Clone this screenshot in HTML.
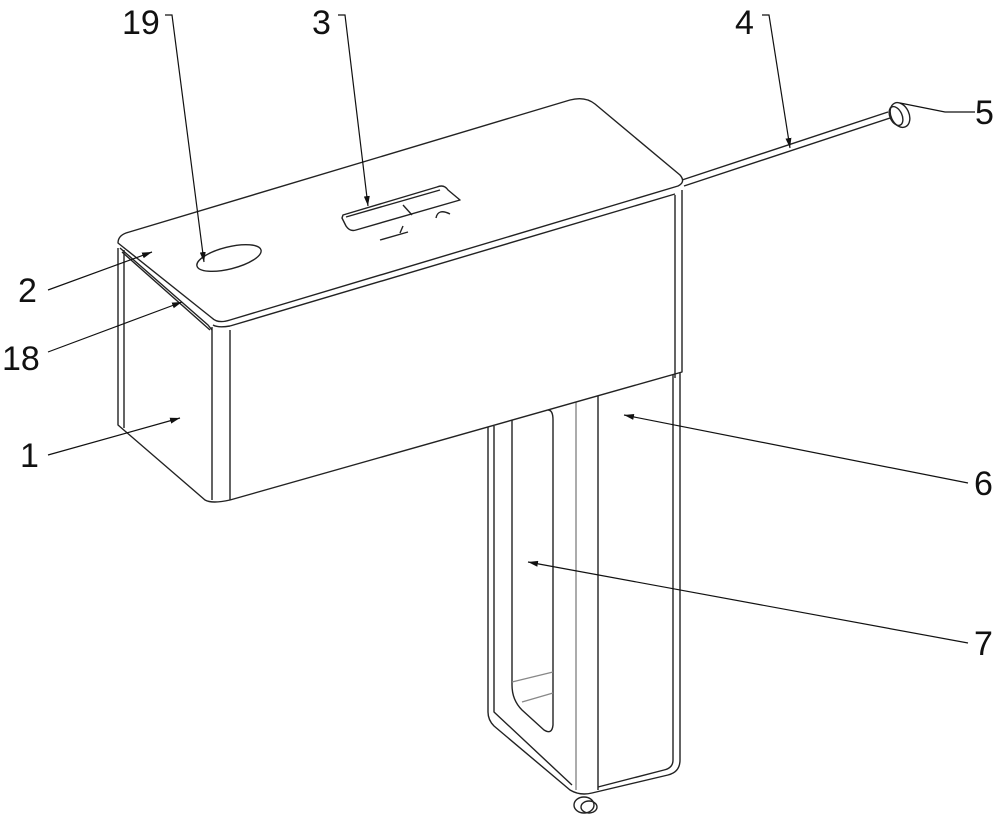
<!DOCTYPE html>
<html><head><meta charset="utf-8"><style>
html,body{margin:0;padding:0;background:#fff;}
svg{display:block}
text{font-family:"Liberation Sans",sans-serif;font-size:34px;fill:#111}
</style></head><body>
<svg width="1000" height="820" viewBox="0 0 1000 820" xmlns="http://www.w3.org/2000/svg">
<defs><marker id="a" viewBox="0 0 10 6" refX="10" refY="3" markerWidth="10" markerHeight="6" orient="auto" markerUnits="userSpaceOnUse"><path d="M0,0L10,3L0,6z" fill="#111"/></marker></defs>
<g fill="none" stroke="#222" stroke-width="1.4" stroke-linejoin="round">
<!-- handle -->
<path d="M488,427 L488,712 Q488,720 494,726 L570,790 Q580,796 592,793 L668,775 Q680,772 680,760 L680,372"/>
<path d="M494,426 L494,712 L572,785"/>
<path d="M673,373 L673,760 Q673,768 664,770 L598,787"/>
<line x1="598" y1="395" x2="598" y2="790"/>
<line x1="576" y1="400" x2="576" y2="790" stroke="#888"/>
<path d="M512,418 L512,685 Q512,700 522,710 L544,730 Q552,735 553,725 L553,420 Q553,410 548,410"/>
<line x1="512" y1="682" x2="553" y2="672" stroke="#888"/>
<line x1="522" y1="702" x2="553" y2="693" stroke="#888"/>
<ellipse cx="584" cy="805" rx="10" ry="8"/>
<ellipse cx="589" cy="807" rx="8" ry="6"/>
<!-- body -->
<path d="M118,248 L118,425 L205,500 Q212,504 230,500 L682,372 L682,190" fill="#fff"/>
<line x1="212" y1="327" x2="212" y2="500"/>
<line x1="230" y1="330" x2="230" y2="500"/>
<line x1="675" y1="195" x2="675" y2="378"/>
<line x1="124" y1="250" x2="124" y2="428"/>
<!-- top face -->
<path d="M118,243 Q118,236 126,233 L570,100 Q585,96 595,104 L680,175 Q686,182 678,186 L230,320 Q218,324 212,318 Z" fill="#fff"/>
<path d="M120,248 L208,325 L212,330"/>
<path d="M122,252 L210,330"/>
<path d="M230,326 L675,194"/>
<path d="M213,325 Q218,328 230,326"/>
<!-- hole 19 -->
<ellipse cx="229" cy="258" rx="33" ry="11" transform="rotate(-14 229 258)"/>
<!-- window 3 -->
<path d="M343,215 L437,187 Q444,184 448,190 L460,200 L356,230 Q350,232 346,226 L342,218 Z"/>
<path d="M346,217 L440,190"/>
<line x1="403" y1="205" x2="412" y2="215"/>
<path d="M436,218 Q438,208 450,214"/>
<path d="M380,240 L408,232 M400,233 L403,226"/>
<!-- arm 4 -->
<line x1="682" y1="180" x2="888" y2="112"/>
<line x1="684" y1="186" x2="890" y2="118"/>
<ellipse cx="900" cy="115" rx="9" ry="13" transform="rotate(-25 900 115)"/>
<ellipse cx="896" cy="116" rx="6" ry="10" transform="rotate(-25 896 116)"/>
</g>
<!-- leaders -->
<g stroke="#111" stroke-width="1.2" fill="none">
<polyline points="165,15 172,15 204,262" marker-end="url(#a)"/>
<polyline points="338,15 345,15 368,206" marker-end="url(#a)"/>
<polyline points="762,15 769,15 790,148" marker-end="url(#a)"/>
<polyline points="975,112 945,112 900,103"/>
<line x1="48" y1="290" x2="152" y2="252" marker-end="url(#a)"/>
<line x1="48" y1="352" x2="182" y2="302" marker-end="url(#a)"/>
<line x1="48" y1="455" x2="180" y2="418" marker-end="url(#a)"/>
<line x1="968" y1="483" x2="624" y2="415" marker-end="url(#a)"/>
<line x1="968" y1="643" x2="528" y2="562" marker-end="url(#a)"/>
</g>
<text x="122" y="34">19</text>
<text x="312" y="34">3</text>
<text x="735" y="34">4</text>
<text x="975" y="124">5</text>
<text x="18" y="302">2</text>
<text x="2" y="370">18</text>
<text x="20" y="467">1</text>
<text x="974" y="495">6</text>
<text x="974" y="655">7</text>
</svg>
</body></html>
